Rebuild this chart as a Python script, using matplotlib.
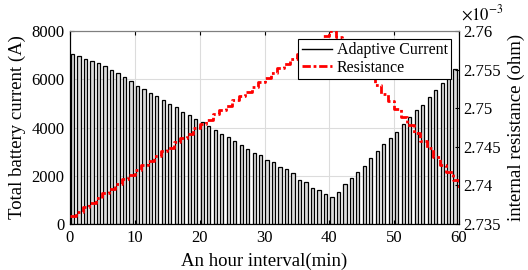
import matplotlib
matplotlib.use('Agg')
import matplotlib.pyplot as plt
from matplotlib.ticker import FuncFormatter
from matplotlib.lines import Line2D

# ---------------- data ----------------
bar_minutes = [k + 0.4 for k in range(60)]
current = [7050, 6950, 6850, 6770, 6660, 6550, 6400, 6260, 6110, 5940,
           5740, 5590, 5420, 5290, 5120, 4960, 4830, 4660, 4510, 4360,
           4210, 4060, 3880, 3740, 3590, 3430, 3260, 3110, 2955, 2860,
           2650, 2555, 2380, 2295, 2100, 1825, 1725, 1505, 1410, 1230,
           1132, 1340, 1645, 1920, 2140, 2420, 2720, 3025, 3330, 3550,
           3830, 4130, 4435, 4710, 4930, 5250, 5540, 5845, 6080, 6440]

res_minutes = list(range(61))
resistance_milli = [2.7360, 2.7365, 2.7372, 2.7377, 2.7384, 2.7390, 2.7395, 2.7402, 2.7408, 2.7413,
                    2.7420, 2.7426, 2.7431, 2.7438, 2.7444, 2.7449, 2.7456, 2.7462, 2.7467, 2.7474,
                    2.7480, 2.7485, 2.7492, 2.7498, 2.7503, 2.7510, 2.7516, 2.7521, 2.7528, 2.7534,
                    2.7539, 2.7546, 2.7552, 2.7557, 2.7564, 2.7570, 2.7575, 2.7582, 2.7588, 2.7594,
                    2.7600, 2.7592, 2.7580, 2.7571, 2.7560, 2.7550, 2.7540, 2.7530, 2.7519, 2.7509,
                    2.7499, 2.7489, 2.7478, 2.7468, 2.7458, 2.7448, 2.7437, 2.7427, 2.7417, 2.7407,
                    2.7397]

x_ticks = [0, 10, 20, 30, 40, 50, 60]
y_ticks_left = [0, 2000, 4000, 6000, 8000]
y_ticks_right = [2.735e-3, 2.74e-3, 2.745e-3, 2.75e-3, 2.755e-3, 2.76e-3]

# ---------------- style ----------------
plt.rcParams['font.family'] = ['Liberation Serif', 'DejaVu Serif']
plt.rcParams['mathtext.fontset'] = 'stix'

fig = plt.figure(figsize=(5.28, 2.70), dpi=100)
ax = fig.add_axes([70 / 528, 46 / 270, 389 / 528, 193 / 270])

ax.bar(bar_minutes, current, width=0.5, color='#dcdcdc', edgecolor='black',
       linewidth=0.9, zorder=2)
ax.set_xlim(0, 60)
ax.set_ylim(0, 8000)
ax.set_xticks(x_ticks)
ax.set_yticks(y_ticks_left)
ax.grid(True, color='#dcdcdc', linewidth=0.8)
ax.set_axisbelow(True)
ax.tick_params(direction='in', top=True, labelsize=12, length=3, pad=4)
ax.set_xlabel('An hour interval(min)', fontsize=13.5, labelpad=5)
ax.set_ylabel('Total battery current (A)', fontsize=13.5, labelpad=4)
ax.spines['top'].set_color('#7f7f7f')

ax2 = ax.twinx()
ax2.plot(res_minutes, [r * 1e-3 for r in resistance_milli], color='red', linewidth=2,
         linestyle=(0, (3, 1, 1, 1)), drawstyle='steps-post', zorder=3)
ax2.set_ylim(2.735e-3, 2.76e-3)
ax2.set_yticks(y_ticks_right)
ax2.yaxis.set_major_formatter(FuncFormatter(lambda v, p: f'{v * 1e3:g}'))
ax2.tick_params(direction='in', labelsize=12, length=3, pad=3)
ax2.set_ylabel('internal resistance (ohm)', fontsize=13.5, labelpad=5)
ax2.spines['top'].set_color('#7f7f7f')
fig.text(461 / 528, 1 - 24 / 270, r'$\times10^{-3}$', fontsize=12, va='bottom', ha='left')

handles = [Line2D([], [], color='black', linewidth=1),
           Line2D([], [], color='red', linewidth=2, linestyle=(0, (3, 1, 1, 1)))]
leg = ax2.legend(handles, ['Adaptive Current', 'Resistance'], loc='upper right',
                 bbox_to_anchor=((451 - 70) / 389, (224 - 39) / 193), borderaxespad=0,
                 fancybox=False, edgecolor='black', framealpha=1, fontsize=11.5,
                 handlelength=1.9, borderpad=0.2, labelspacing=0.1, handletextpad=0.3)
leg.get_frame().set_linewidth(0.8)

fig.savefig('out.png', dpi=100)
